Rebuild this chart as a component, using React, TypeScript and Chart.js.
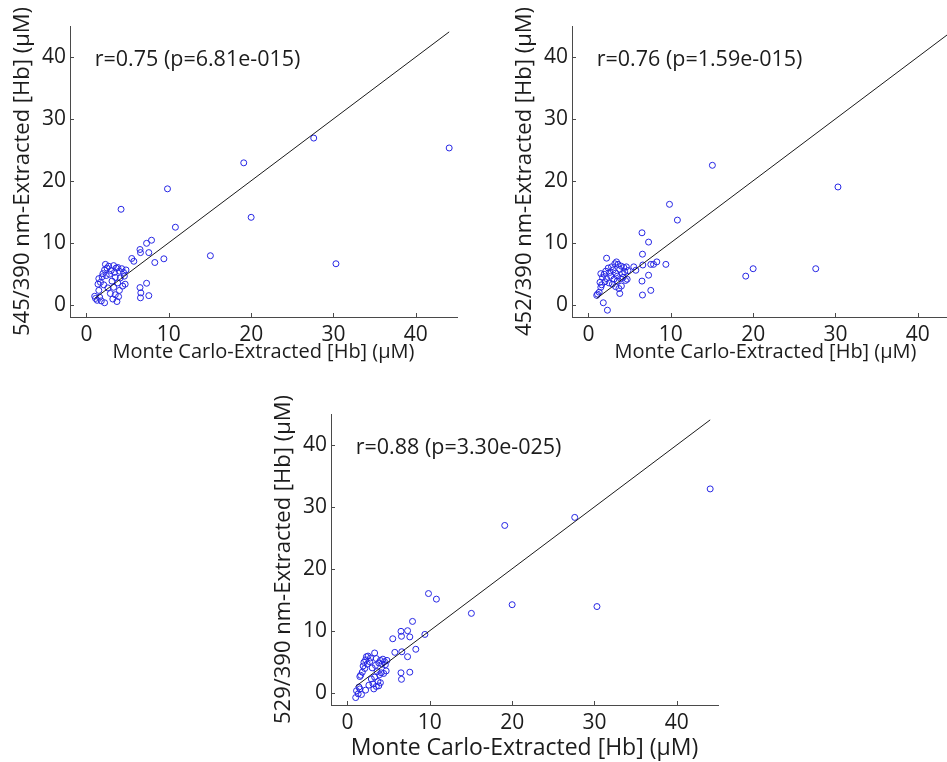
import React, { useEffect, useRef } from "react";
import { Chart, registerables } from "chart.js";

Chart.register(...registerables);

// Monte Carlo-extracted haemoglobin concentration (µM), one entry per sample
const MC_HB = [
  1.0, 1.1, 1.3, 1.4, 1.5, 1.5, 1.6, 1.7, 1.8, 1.9,
  2.0, 2.1, 2.2, 2.2, 2.3, 2.4, 2.5, 2.6, 2.7, 2.8,
  2.9, 3.0, 3.1, 3.2, 3.3, 3.3, 3.4, 3.5, 3.5, 3.6,
  3.7, 3.8, 3.8, 3.9, 4.0, 4.0, 4.1, 4.2, 4.3, 4.4,
  4.5, 4.6, 4.7, 4.8,
  5.5, 5.75, 6.5, 6.5, 6.56, 6.56, 6.6, 7.3, 7.3, 7.57,
  7.57, 7.9, 8.3, 9.4, 9.84, 10.8, 15.05, 19.1, 20.0, 27.6,
  30.3, 44.05,
];

// Ratio-metric estimates for the same samples
const HB_545 = [
  1.35, 1.0, 0.7, 3.3, 2.3, 4.2, 1.2, 3.6, 0.6, 4.5,
  5.0, 3.2, 5.6, 0.3, 6.5, 4.7, 5.9, 2.7, 6.2, 4.9,
  1.8, 5.5, 3.8, 0.9, 6.3, 2.8, 5.2, 1.6, 4.4, 5.9,
  0.5, 3.5, 6.0, 1.3, 2.3, 5.4, 4.3, 15.4, 5.8, 3.0,
  5.2, 4.6, 3.3, 5.6,
  7.45, 7.0, 8.9, 2.75, 8.4, 1.1, 1.9, 9.9, 3.45, 8.4,
  1.45, 10.4, 6.8, 7.4, 18.7, 12.5, 7.9, 22.9, 14.1, 26.9,
  6.6, 25.3,
];

const HB_452 = [
  1.5, 1.7, 2.0, 3.6, 2.8, 5.0, 3.2, 4.4, 0.3, 4.9,
  3.7, 5.4, 7.5, 4.2, -0.9, 5.9, 3.5, 5.2, 4.6, 6.1,
  3.3, 5.6, 4.1, 6.6, 2.9, 5.1, 6.9, 3.8, 4.6, 6.5,
  2.6, 5.7, 1.8, 4.2, 6.2, 3.0, 5.0, 4.4, 6.0, 5.3,
  3.9, 6.1, 4.1, 5.5,
  6.1, 5.55, 11.6, 3.8, 8.15, 1.55, 6.4, 10.1, 4.75, 6.5,
  2.3, 6.5, 6.9, 6.5, 16.2, 13.65, 22.5, 4.6, 5.8, 5.8,
  19.0, 37.9,
];

const HB_529 = [
  -0.8, 0.3, -0.2, 0.9, 2.6, 0.6, 2.8, -0.3, 3.3, 4.3,
  4.9, 3.9, 5.3, 0.4, 5.8, 4.6, 5.9, 1.2, 5.0, 5.6,
  2.2, 4.0, 1.4, 0.6, 6.4, 2.5, 4.4, 1.0, 5.5, 3.4,
  1.8, 4.8, 1.1, 2.9, 5.2, 1.6, 3.2, 4.6, 5.4, 3.1,
  5.0, 4.5, 3.5, 5.2,
  8.7, 6.5, 9.9, 3.2, 9.1, 2.15, 6.6, 10.0, 5.8, 9.0,
  3.3, 11.5, 7.0, 9.4, 16.0, 15.1, 12.8, 27.0, 14.2, 28.3,
  13.9, 32.9,
];

const AXIS_TICKS = [0, 10, 20, 30, 40];
const AXIS_MIN = -2;
const AXIS_MAX = 45;

const X_TITLE = "Monte Carlo-Extracted [Hb] (\u03bcM)";
const Y_TITLE_545 = "545/390 nm-Extracted [Hb] (\u03bcM)";
const Y_TITLE_452 = "452/390 nm-Extracted [Hb] (\u03bcM)";
const Y_TITLE_529 = "529/390 nm-Extracted [Hb] (\u03bcM)";
const STATS_545 = "r=0.75 (p=6.81e-015)";
const STATS_452 = "r=0.76 (p=1.59e-015)";
const STATS_529 = "r=0.88 (p=3.30e-025)";
// anchor of the correlation label, in data units
const STATS_AT = { x: 1, y: 39.6 };

const FONT = "'Open Sans', 'Noto Sans', sans-serif";
const TEXT = "#1c1c1c";
const AXIS = "#4a4a4a";
const MARKER = "rgb(38, 38, 228)";

// geometry shared by the three panels (canvas pixels)
const CANVAS_W = 470;
const AREA_LEFT = 70;
const AREA_TOP = 26;
const AREA_RIGHT = 457;
const AREA_BOTTOM = 317;

type PanelProps = {
  values: number[];
  yTitle: string;
  stats: string;
  left: number;
  top: number;
  height: number;
  xTitleSize: number;
};

const innerTicks = {
  id: "innerTicks",
  afterDraw(chart: any) {
    const { ctx, chartArea, scales } = chart;
    ctx.save();
    ctx.strokeStyle = AXIS;
    ctx.lineWidth = 1;
    ctx.beginPath();
    for (const t of scales.x.ticks) {
      const px = Math.round(scales.x.getPixelForValue(t.value)) + 0.5;
      ctx.moveTo(px, chartArea.bottom);
      ctx.lineTo(px, chartArea.bottom - 4);
    }
    for (const t of scales.y.ticks) {
      const py = Math.round(scales.y.getPixelForValue(t.value)) + 0.5;
      ctx.moveTo(chartArea.left, py);
      ctx.lineTo(chartArea.left + 4, py);
    }
    ctx.stroke();
    ctx.restore();
  },
};

const statsLabel = {
  id: "statsLabel",
  afterDatasetsDraw(chart: any, _args: any, opts: any) {
    const { ctx, scales } = chart;
    ctx.save();
    ctx.font = `21.5px ${FONT}`;
    ctx.fillStyle = TEXT;
    ctx.textAlign = "left";
    ctx.textBaseline = "middle";
    ctx.fillText(
      opts.text,
      scales.x.getPixelForValue(STATS_AT.x),
      scales.y.getPixelForValue(STATS_AT.y)
    );
    ctx.restore();
  },
};

function Panel({ values, yTitle, stats, left, top, height, xTitleSize }: PanelProps) {
  const ref = useRef<HTMLCanvasElement | null>(null);

  useEffect(() => {
    if (!ref.current) return;
    const points = MC_HB.map((x, i) => ({ x, y: values[i] }));
    const lo = Math.min(...MC_HB);
    const hi = Math.max(...MC_HB);
    const tickFont = { family: FONT, size: 21 };

    const chart = new Chart(ref.current, {
      type: "scatter",
      data: {
        datasets: [
          {
            data: [
              { x: lo, y: lo },
              { x: hi, y: hi },
            ],
            showLine: true,
            borderColor: "#1a1a1a",
            borderWidth: 1,
            pointRadius: 0,
            clip: false,
            order: 0,
          } as any,
          {
            data: points,
            pointStyle: "circle",
            pointRadius: 3,
            borderWidth: 1,
            borderColor: MARKER,
            backgroundColor: "rgba(0,0,0,0)",
            clip: false,
            order: 1,
          } as any,
        ],
      },
      options: {
        responsive: false,
        maintainAspectRatio: false,
        animation: false,
        devicePixelRatio: 1,
        events: [],
        layout: {
          padding: { left: 0, top: AREA_TOP, right: CANVAS_W - AREA_RIGHT, bottom: 0 },
        },
        plugins: {
          legend: { display: false },
          tooltip: { enabled: false },
          statsLabel: { text: stats },
        } as any,
        scales: {
          x: {
            type: "linear",
            min: AXIS_MIN,
            max: AXIS_MAX,
            afterBuildTicks: (s: any) => {
              s.ticks = AXIS_TICKS.map((v) => ({ value: v }));
            },
            afterFit: (s: any) => {
              s.height = height - AREA_BOTTOM;
            },
            grid: { display: false, drawTicks: false },
            border: { display: true, color: AXIS, width: 1 },
            ticks: {
              padding: 5,
              color: TEXT,
              font: tickFont,
              autoSkip: false,
              maxRotation: 0,
            },
            title: {
              display: true,
              text: X_TITLE,
              color: TEXT,
              font: { family: FONT, size: xTitleSize },
              padding: { top: 0, bottom: 0 },
            },
          },
          y: {
            type: "linear",
            min: AXIS_MIN,
            max: AXIS_MAX,
            afterBuildTicks: (s: any) => {
              s.ticks = AXIS_TICKS.map((v) => ({ value: v }));
            },
            afterFit: (s: any) => {
              s.width = AREA_LEFT;
            },
            grid: { display: false, drawTicks: false },
            border: { display: true, color: AXIS, width: 1 },
            ticks: {
              padding: 4,
              color: TEXT,
              font: tickFont,
              autoSkip: false,
            },
            title: {
              display: true,
              text: yTitle,
              color: TEXT,
              font: { family: FONT, size: 22 },
              padding: { top: 10, bottom: 0 },
            },
          },
        },
      },
      plugins: [innerTicks, statsLabel],
    });

    return () => chart.destroy();
  }, [values, yTitle, stats, height, xTitleSize]);

  return (
    <div style={{ position: "absolute", left, top, width: CANVAS_W, height }}>
      <canvas
        ref={ref}
        width={CANVAS_W}
        height={height}
        style={{ width: CANVAS_W, height, display: "block" }}
      />
    </div>
  );
}

export default function App() {
  return (
    <div
      style={{
        position: "absolute",
        left: 0,
        top: 0,
        width: 947,
        height: 762,
        overflow: "hidden",
        background: "#ffffff",
      }}
    >
      <Panel values={HB_545} yTitle={Y_TITLE_545} stats={STATS_545} left={0} top={0} height={364} xTitleSize={20} />
      <Panel values={HB_452} yTitle={Y_TITLE_452} stats={STATS_452} left={502} top={0} height={364} xTitleSize={20} />
      <Panel values={HB_529} yTitle={Y_TITLE_529} stats={STATS_529} left={261} top={388} height={374} xTitleSize={23} />
    </div>
  );
}
